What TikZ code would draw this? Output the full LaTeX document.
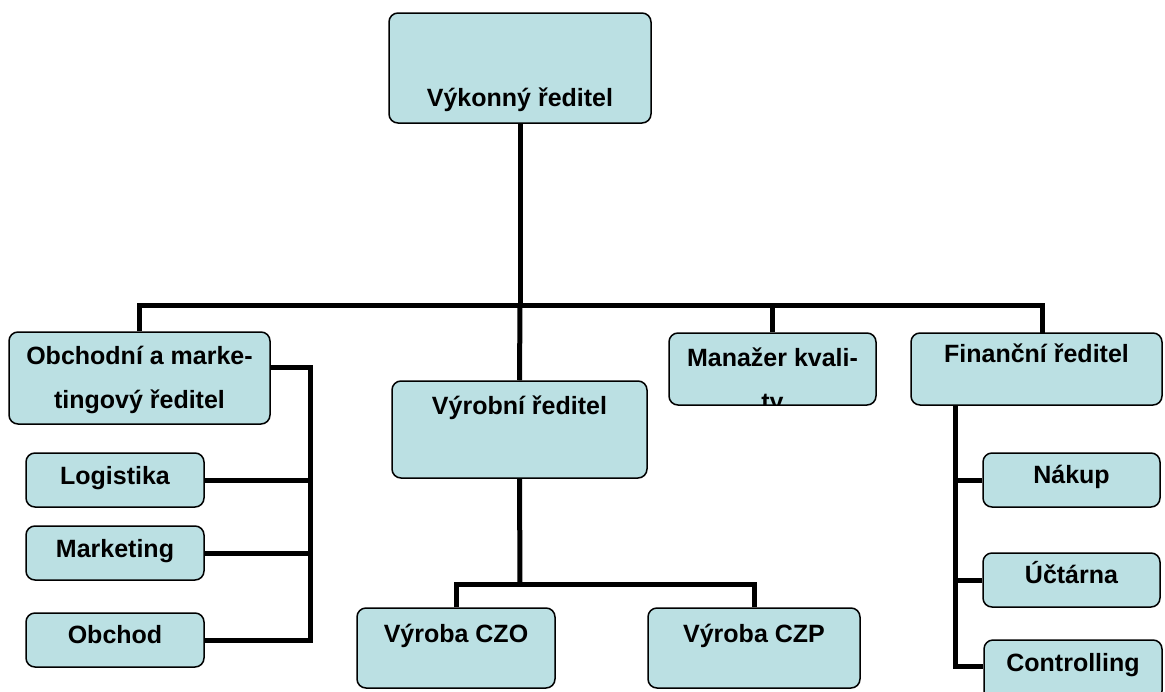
\documentclass[tikz,border=0pt]{standalone}
\usepackage{fontspec}
\setmainfont{Liberation Sans}
\definecolor{boxfill}{HTML}{BBE0E3}
\tikzset{
    orgbox/.style={draw=black, line width=1.5pt, fill=boxfill, rounded corners=9pt,
        inner sep=0pt, anchor=base, align=center, font=\orgfont},
    orgline/.style={line width=5pt}
}
\newcommand{\orgfont}{\fontsize{25pt}{44pt}\selectfont\bfseries}

\begin{document}
\begin{tikzpicture}[x=1pt, y=-1pt]
        \useasboundingbox (0,0) rectangle (1165,691);

        % 1. Define the boxes (placed at the baseline of the last text line)
        % Top
        \node[orgbox, minimum width=262pt, text height=93pt, text depth=17pt] (ceo) at (520,106) {Výkonný ředitel};

        % Second row
        \node[orgbox, minimum width=261pt, text height=76pt, text depth=16pt] (sales) at (139.5,408) {Obchodní a marke-\\tingový ředitel};
        \node[orgbox, minimum width=255pt, text height=33pt, text depth=64pt] (prod) at (519.5,414) {Výrobní ředitel};
        \node[orgbox, minimum width=207pt, text height=31pt, text depth=41pt,
            path picture={\node[anchor=base, align=center, font=\orgfont, inner sep=0pt]
                at ([yshift=-77pt]path picture bounding box.north) {Manažer kvali-\\ty};}] (kval) at (772.5,364) {};
        \node[orgbox, minimum width=251pt, text height=29pt, text depth=43pt] (fin) at (1036.5,362) {Finanční ředitel};

        % Left column (sales)
        \node[orgbox, minimum width=178pt, text height=31pt, text depth=23pt] (logist) at (115,484) {Logistika};
        \node[orgbox, minimum width=178pt, text height=31pt, text depth=23pt] (market) at (115,557) {Marketing};
        \node[orgbox, minimum width=178pt, text height=30pt, text depth=24pt] (trade) at (115,643) {Obchod};

        % Bottom row (production)
        \node[orgbox, minimum width=198pt, text height=34pt, text depth=46pt] (czo) at (456,642) {Výroba CZO};
        \node[orgbox, minimum width=212pt, text height=34pt, text depth=46pt] (czp) at (754,642) {Výroba CZP};

        % Right column (finance)
        \node[orgbox, minimum width=177pt, text height=30pt, text depth=24pt] (buy) at (1071.5,483) {Nákup};
        \node[orgbox, minimum width=177pt, text height=30pt, text depth=24pt] (acct) at (1071.5,583) {Účtárna};
        \node[orgbox, minimum width=178pt, text height=31pt, text depth=29pt] (ctrl) at (1073,671) {Controlling};

        % 2. Junction points
        \coordinate (bus) at (520,305);    % main horizontal bar
        \coordinate (finTop) at (1042,333); % drop to finance
        \coordinate (srail) at (310,367);  % sales rail
        \coordinate (pbus) at (520,584);   % production bar
        \coordinate (frail) at (955,405);  % finance rail

        % 3. Draw the lines
        \begin{scope}[orgline]
            % Main tree
            \draw (ceo.south) -- (bus);
            \draw (sales.north) |- (bus) -| (finTop);
            \draw (bus) -- (prod.north);
            \draw (kval.north) -- (kval.north |- bus);

            % Sales department
            \draw ([yshift=11pt]sales.east) -- (srail) |- (trade.east);
            \foreach \n in {logist, market}
                \draw (\n.east) -- (\n.east -| srail);

            % Production
            \draw (prod.south) -- (pbus);
            \draw (czo.north) |- (pbus) -| (czp.north);

            % Finance department
            \draw (frail) |- ([yshift=4pt]ctrl.west);
            \foreach \n in {buy, acct}
                \draw (\n.west) -- (\n.west -| frail);
        \end{scope}

    \end{tikzpicture}
\end{document}
